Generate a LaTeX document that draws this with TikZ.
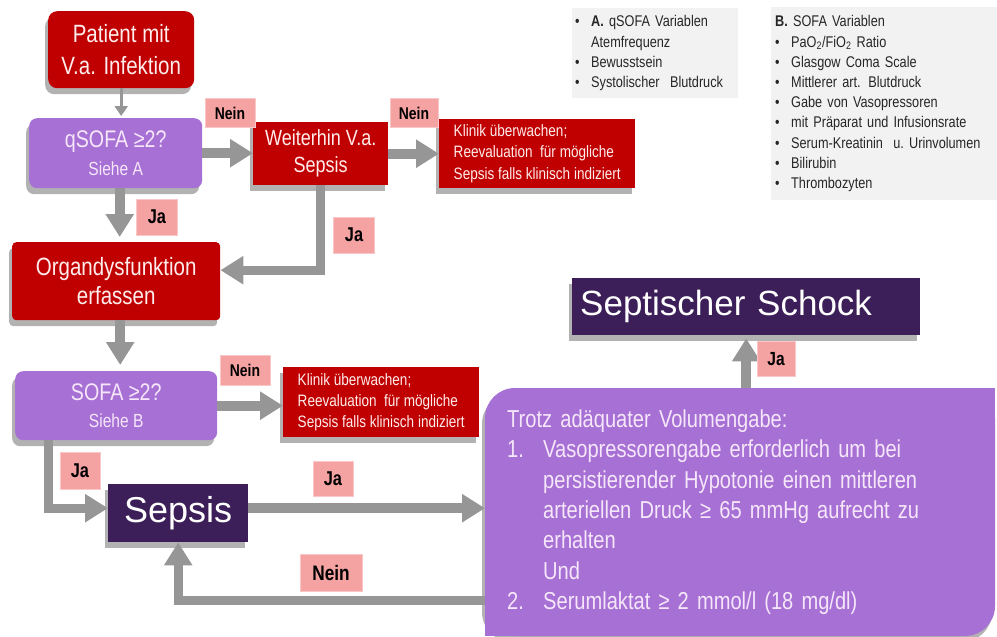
\documentclass[tikz,border=0pt]{standalone}
\usepackage{fontspec}
\setmainfont{Liberation Sans}
\newfontfamily\nfont{Liberation Sans}[FakeStretch=0.82]
\usetikzlibrary{arrows.meta,shadows}
\definecolor{boxred}{RGB}{192,0,0}
\definecolor{boxlila}{RGB}{166,112,212}
\definecolor{boxdark}{RGB}{60,30,88}
\definecolor{tagpink}{RGB}{245,162,162}
\definecolor{arrowgray}{RGB}{150,150,150}
\definecolor{infogray}{RGB}{242,242,242}
\definecolor{redtext}{RGB}{255,236,236}
\definecolor{lilatext}{RGB}{246,230,250}
\newcommand\pkt{\makebox[16pt][l]{•}}
\begin{document}
\begin{tikzpicture}[x=1pt,y=-1pt,
  boxshadow/.style={drop shadow={shadow xshift=-3pt,shadow yshift=-6pt,opacity=.3,fill=black}},
  flowbox/.style={anchor=north west,inner sep=0pt,align=center,boxshadow},
  redbox/.style={flowbox,fill=boxred,text=redtext},
  lilabox/.style={flowbox,fill=boxlila,text=lilatext,rounded corners=8pt},
  darkbox/.style={flowbox,fill=boxdark,text=white,font=\fontsize{36}{40}\selectfont},
  tag/.style={fill=tagpink,draw=tagpink!60!white,inner sep=0pt,font=\nfont\bfseries\fontsize{17}{17}\selectfont},
  tagja/.style={tag,font=\nfont\bfseries\fontsize{20}{20}\selectfont},
  infobox/.style={anchor=north west,fill=infogray,text=black!85,align=left,inner ysep=0pt,font=\nfont\fontsize{15.5}{20.2}\selectfont},
  bigarrow/.style={draw=arrowgray,line width=10pt,-{Triangle[length=23pt,width=27pt]}},
  thinarrow/.style={draw=arrowgray,line width=3pt,-{Triangle[length=10pt,width=13pt]}}
]
\useasboundingbox (0,0) rectangle (997,637);

% Kriterien septischer Schock
\fill[boxlila,rounded corners=30pt,boxshadow] (485,388) rectangle (995,636);
\fill[boxlila] (965,388) rectangle (995,418);
\fill[boxlila] (485,606) rectangle (515,636);
\node[anchor=north west,minimum width=510pt,minimum height=248pt,inner xsep=22pt,text width=466pt,align=left,text=lilatext,font=\nfont\fontsize{24.5}{30.3}\selectfont] (crit) at (485,388)
  {Trotz adäquater Volumengabe:\\
   \makebox[36pt][l]{1.}Vasopressorengabe erforderlich um bei\\
   \hspace*{36pt}persistierender Hypotonie einen mittleren\\
   \hspace*{36pt}arteriellen Druck ≥ 65 mmHg aufrecht zu\\
   \hspace*{36pt}erhalten\\
   \hspace*{36pt}Und\\
   \makebox[36pt][l]{2.}Serumlaktat ≥ 2 mmol/l (18 mg/dl)};

% Variablen
\node[infobox,minimum width=166pt,minimum height=90pt,text width=160pt,inner xsep=3pt] (qsofavars) at (572,8)
  {\pkt\textbf{A.} qSOFA Variablen\\\hspace*{16pt}Atemfrequenz\\\pkt Bewusstsein\\\pkt Systolischer\ \ Blutdruck};
\node[infobox,minimum width=226pt,minimum height=193pt,text width=218pt,inner xsep=4pt] (sofavars) at (771,7)
  {\textbf{B.} SOFA Variablen\\\pkt PaO\textsubscript{2}/FiO\textsubscript{2} Ratio\\\pkt Glasgow Coma Scale\\\pkt Mittlerer art. Blutdruck\\\pkt Gabe von Vasopressoren\\\pkt mit Präparat und Infusionsrate\\\pkt Serum-Kreatinin\ \ u.\ Urinvolumen\\\pkt Bilirubin\\\pkt Thrombozyten};

% Flussdiagramm
\node[redbox,rounded corners=9pt,minimum width=146pt,minimum height=77pt,font=\nfont\fontsize{25}{32}\selectfont] (patient) at (48,11) {Patient mit\\V.a. Infektion};
\node[lilabox,minimum width=173pt,minimum height=70pt,font=\nfont\fontsize{24}{28}\selectfont] (qsofa) at (29,118) {qSOFA ≥2?\\{\fontsize{19}{22}\selectfont Siehe A}};
\node[redbox,minimum width=135pt,minimum height=63pt,font=\nfont\fontsize{22}{27}\selectfont] (weiter) at (253,122) {Weiterhin V.a.\\Sepsis};
\node[redbox,minimum width=196pt,minimum height=69pt,align=left,font=\nfont\fontsize{16.5}{21.5}\selectfont] (klinikA) at (439,119) {Klinik überwachen;\\Reevaluation\ \ für mögliche\\Sepsis falls klinisch indiziert};
\node[redbox,rounded corners=4pt,minimum width=208pt,minimum height=78pt,font=\nfont\fontsize{25}{29}\selectfont] (organ) at (12,242) {Organdysfunktion\\erfassen};
\node[lilabox,minimum width=202pt,minimum height=69pt,font=\nfont\fontsize{24}{27}\selectfont] (sofa) at (15,371) {SOFA ≥2?\\{\fontsize{19}{22}\selectfont Siehe B}};
\node[redbox,minimum width=196pt,minimum height=70pt,align=left,font=\nfont\fontsize{16.5}{21}\selectfont] (klinikB) at (283,367) {Klinik überwachen;\\Reevaluation\ \ für mögliche\\Sepsis falls klinisch indiziert};
\node[darkbox,minimum width=140pt,minimum height=58pt] (sepsis) at (108,484) {Sepsis};
\node[darkbox,minimum width=348pt,minimum height=57pt,inner xsep=8pt,text width=332pt,align=left,font=\fontsize{35}{40}\selectfont] (schock) at (572,278) {Septischer Schock};

% Pfeile
\draw[thinarrow,shorten >=2pt] (patient.south) -- (patient.south |- qsofa.north);
\draw[bigarrow] (qsofa.east) -- (qsofa.east -| weiter.west);
\draw[bigarrow] (weiter.east) -- (weiter.east -| klinikA.west);
\draw[bigarrow,shorten >=5pt] ([xshift=4pt]qsofa.south) -- ([xshift=4pt]qsofa.south |- organ.north);
\draw[bigarrow,line width=9pt] (weiter.south) |- ([yshift=11pt]organ.east);
\draw[bigarrow,shorten >=6pt] ([xshift=4pt]organ.south) -- ([xshift=4pt]organ.south |- sofa.north);
\draw[bigarrow] (sofa.east) -- (sofa.east -| klinikB.west);
\draw[bigarrow,line width=9pt] ([xshift=33pt]sofa.south west) |- ([yshift=5pt]sepsis.west);
\draw[bigarrow] ([yshift=5pt]sepsis.east) -- ([yshift=5pt]sepsis.east -| crit.west);
\draw[bigarrow,line width=9pt] ([yshift=-88pt]crit.west) -| (sepsis.south);
\draw[bigarrow,shorten >=3pt] (schock.south |- crit.north) -- (schock.south);

% Antworten
\node[tag,minimum width=50pt,minimum height=29pt] (neinA) at (230,113) {Nein};
\node[tag,minimum width=48pt,minimum height=29pt] (neinB) at (414,113) {Nein};
\node[tagja,minimum width=41pt,minimum height=36pt] (jaA) at (157,217) {Ja};
\node[tagja,minimum width=41pt,minimum height=36pt] (jaB) at (354,235) {Ja};
\node[tag,minimum width=50pt,minimum height=30pt] (neinC) at (245,370) {Nein};
\node[tagja,minimum width=40pt,minimum height=37pt] (jaC) at (80,471) {Ja};
\node[tagja,minimum width=40pt,minimum height=35pt] (jaD) at (333,479) {Ja};
\node[tag,minimum width=62pt,minimum height=37pt,font=\nfont\bfseries\fontsize{21}{21}\selectfont] (neinD) at (331,573) {Nein};
\node[tagja,minimum width=38pt,minimum height=35pt,font=\nfont\bfseries\fontsize{19}{19}\selectfont] (jaE) at (776,359) {Ja};
\end{tikzpicture}
\end{document}
